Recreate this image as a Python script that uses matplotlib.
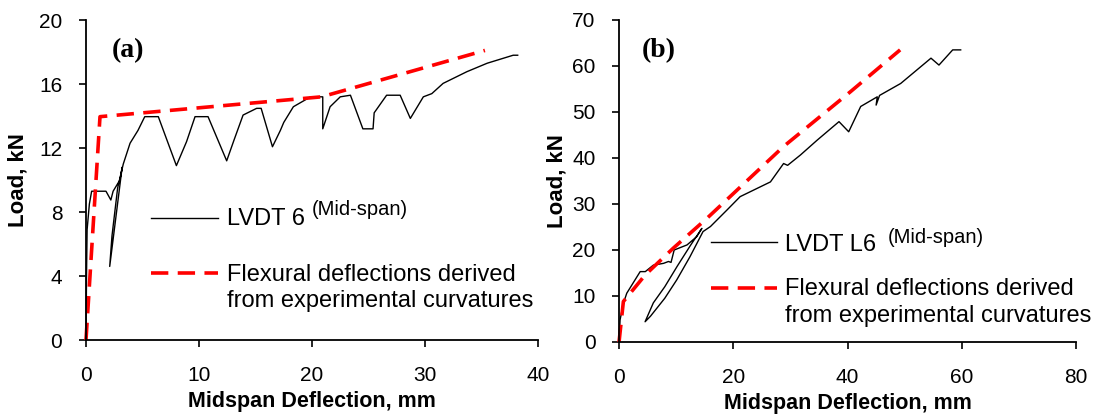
import numpy as np
import matplotlib
matplotlib.use("Agg")
import matplotlib.pyplot as plt

plt.rcParams['font.family'] = ['Liberation Sans', 'DejaVu Sans']

#-----------------------------------------------------------------------------#
# data
#-----------------------------------------------------------------------------#
# (a) LVDT 6 measured load-deflection (mm, kN)
defl_a = [0.0, 0.05, 0.1, 0.3, 0.5, 1.77, 2.2, 2.4, 3.0, 3.2, 2.1, 2.3, 2.8,
          3.3, 3.9, 4.6, 5.2, 6.4, 8.0, 8.9, 9.65, 10.8, 12.45, 13.1, 13.9,
          15.1, 15.5, 16.5, 17.2, 17.5, 18.35, 19.8, 20.0, 20.7, 20.95, 20.95,
          21.6, 22.5, 23.4, 24.5, 25.4, 25.5, 26.6, 27.8, 28.7, 29.85, 30.6,
          31.6, 33.7, 35.5, 37.8, 38.2]
load_a = [0.0, 4.2, 6.9, 8.5, 9.3, 9.3, 8.75, 9.3, 10.0, 10.8, 4.6, 6.5, 9.5,
          11.0, 12.3, 13.1, 13.96, 13.96, 10.9, 12.4, 13.96, 13.96, 11.2, 12.5,
          14.06, 14.48, 14.48, 12.08, 13.1, 13.6, 14.58, 15.17, 15.2, 15.2,
          15.2, 13.2, 14.58, 15.2, 15.3, 13.2, 13.2, 14.2, 15.3, 15.3, 13.85,
          15.2, 15.4, 16.04, 16.77, 17.3, 17.8, 17.8]

# (a) flexural deflections derived from experimental curvatures
flex_defl_a = [0.0, 1.24, 20.85, 35.3]
flex_load_a = [0.0, 13.96, 15.2, 18.1]

# (b) LVDT L6 measured load-deflection
defl_b = [0.0, 0.18, 0.76, 1.35, 2.8, 3.7, 4.6, 6.0, 7.8, 8.65, 9.1, 9.65,
          11.9, 13.6, 14.5, 12.5, 10.2, 8.0, 6.0, 4.56, 5.5, 8.0, 10.1, 12.4,
          14.7, 16.0, 18.9, 21.2, 26.5, 28.8, 29.5, 31.75, 34.7, 38.5, 40.2,
          42.3, 45.2, 45.0, 45.6, 49.3, 54.6, 56.0, 58.4, 59.8]
load_b = [0.0, 4.8, 8.4, 10.6, 13.5, 15.3, 15.3, 16.7, 17.1, 17.5, 17.3,
          20.0, 21.1, 22.9, 24.7, 21.0, 16.5, 12.0, 8.5, 4.4, 5.6, 9.5, 13.5,
          18.5, 24.0, 25.1, 28.7, 31.6, 34.8, 38.8, 38.4, 40.65, 43.9, 47.9,
          45.7, 51.2, 53.3, 51.5, 53.6, 56.2, 61.7, 60.2, 63.5, 63.5]

# (b) flexural deflections derived from experimental curvatures
flex_defl_b = [0.0, 0.76, 4.6, 9.5, 15.4, 28.8, 40.5, 49.2]
flex_load_b = [0.0, 8.8, 14.6, 20.4, 26.9, 42.5, 54.4, 63.5]

xticks_a = [0, 10, 20, 30, 40]
yticks_a = [0, 4, 8, 12, 16, 20]
xticks_b = [0, 20, 40, 60, 80]
yticks_b = [0, 10, 20, 30, 40, 50, 60, 70]

#-----------------------------------------------------------------------------#
# figure
#-----------------------------------------------------------------------------#
fig = plt.figure(figsize=(11.08, 4.19), dpi=100)
ax1 = fig.add_axes([0.0776, 0.1885, 0.408, 0.7637])
ax2 = fig.add_axes([0.5587, 0.1838, 0.4125, 0.7685])

red = '#ff0000'
dash = (4.8, 2.6)
leg_fs = 17


def style_axes(ax, xt, yt, ypad):
    ax.set_xlim(xt[0], xt[-1])
    ax.set_ylim(yt[0], yt[-1])
    ax.set_xticks(xt)
    ax.set_yticks(yt)
    ax.spines['top'].set_visible(False)
    ax.spines['right'].set_visible(False)
    for s in ('left', 'bottom'):
        ax.spines[s].set_linewidth(1.3)
    ax.tick_params(axis='y', direction='out', length=5, width=1.2,
                   labelsize=15, pad=12)
    ax.tick_params(axis='x', direction='out', length=5, width=1.2,
                   labelsize=15, pad=14)
    ax.set_xlabel("Midspan Deflection, mm", fontsize=15.5, fontweight='bold',
                  labelpad=4)
    ax.set_ylabel("Load, kN", fontsize=16, fontweight='bold', labelpad=ypad)


#panel (a)
ax1.plot(defl_a, load_a, color='black', lw=1.0, clip_on=False)
ax1.plot(flex_defl_a, flex_load_a, color=red, lw=2.6, dashes=dash,
         clip_on=False)
style_axes(ax1, xticks_a, yticks_a, 8)
ax1.text(0.058, 0.905, "(a)", transform=ax1.transAxes, fontsize=20,
         fontweight='bold', family='Liberation Serif', va='center')

#legend (a), drawn by hand so the dashed key sits on the first text line
ax1.plot([0.144, 0.292], [0.380, 0.380], color='black', lw=1.0,
         transform=ax1.transAxes)
ax1.plot([0.144, 0.292], [0.209, 0.209], color=red, lw=2.6, dashes=dash,
         transform=ax1.transAxes)
ax1.text(0.312, 0.378, "LVDT 6", transform=ax1.transAxes, fontsize=leg_fs,
         va='center')
ax1.text(0.500, 0.409, "(Mid-span)", transform=ax1.transAxes, fontsize=14.5,
         va='center')
ax1.text(0.312, 0.203, "Flexural deflections derived",
         transform=ax1.transAxes, fontsize=leg_fs, va='center')
ax1.text(0.312, 0.122, "from experimental curvatures",
         transform=ax1.transAxes, fontsize=leg_fs, va='center')

#panel (b)
ax2.plot(defl_b, load_b, color='black', lw=1.0, clip_on=False)
ax2.plot(flex_defl_b, flex_load_b, color=red, lw=2.6, dashes=dash,
         clip_on=False)
style_axes(ax2, xticks_b, yticks_b, 3.5)
ax2.text(0.05, 0.905, "(b)", transform=ax2.transAxes, fontsize=20,
         fontweight='bold', family='Liberation Serif', va='center')

ax2.plot([0.201, 0.346], [0.311, 0.311], color='black', lw=1.0,
         transform=ax2.transAxes)
ax2.plot([0.201, 0.346], [0.168, 0.168], color=red, lw=2.6, dashes=dash,
         transform=ax2.transAxes)
ax2.text(0.363, 0.300, "LVDT L6", transform=ax2.transAxes, fontsize=leg_fs,
         va='center')
ax2.text(0.589, 0.326, "(Mid-span)", transform=ax2.transAxes, fontsize=14.5,
         va='center')
ax2.text(0.363, 0.165, "Flexural deflections derived",
         transform=ax2.transAxes, fontsize=leg_fs, va='center')
ax2.text(0.363, 0.080, "from experimental curvatures",
         transform=ax2.transAxes, fontsize=leg_fs, va='center')

fig.savefig("out.png", dpi=100)
